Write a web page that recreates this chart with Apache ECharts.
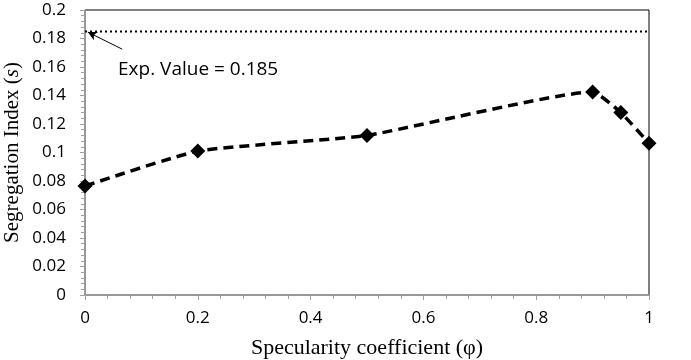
<!DOCTYPE html>
<html><head><meta charset="utf-8">
<script src="https://cdn.jsdelivr.net/npm/echarts@6/dist/echarts.min.js"></script>
<style>html,body{margin:0;padding:0;background:#fff}#c{width:691px;height:360px}</style>
</head><body><div id="c"></div>
<script>
var xValues = [0, 0.2, 0.5, 0.9, 0.95, 1];
var segIndex = [0.0765, 0.101, 0.112, 0.1425, 0.128, 0.1065];
var expValue = 0.185;
var expX = [0, 1];
var xTicks = [0, 0.2, 0.4, 0.6, 0.8, 1];
var yTicks = [0, 0.02, 0.04, 0.06, 0.08, 0.1, 0.12, 0.14, 0.16, 0.18, 0.2];
var annotationText = 'Exp. Value = 0.185';

var chart = echarts.init(document.getElementById('c'));
var tickFont = {fontFamily: 'Open Sans', fontSize: 17, color: '#000'};
chart.setOption({
  animation: false,
  grid: {left: 85, right: 42, top: 10, bottom: 65, outerBoundsMode: 'none', containLabel: false,
         show: true, borderColor: '#000', borderWidth: 1, backgroundColor: 'transparent'},
  xAxis: {
    type: 'value', min: 0, max: 1, interval: 0.2,
    axisLine: {show: true, lineStyle: {color: '#a0a0a0', width: 1.5}},
    axisTick: {show: true, length: 5, inside: false, lineStyle: {color: '#a0a0a0'}},
    minorTick: {show: true, splitNumber: 5, length: 4, lineStyle: {color: '#a0a0a0'}},
    splitLine: {show: false},
    axisLabel: Object.assign({margin: 15, formatter: function(v){return String(+v.toFixed(2));}}, tickFont),
    name: 'Specularity coefficient (φ)', nameLocation: 'middle', nameGap: 42, nameMoveOverlap: false,
    nameTextStyle: {fontFamily: 'Liberation Serif', fontSize: 22, color: '#000'}
  },
  yAxis: {
    type: 'value', min: 0, max: 0.2, interval: 0.02,
    axisLine: {show: true, lineStyle: {color: '#a0a0a0', width: 1.5}},
    axisTick: {show: true, length: 5, lineStyle: {color: '#a0a0a0'}},
    minorTick: {show: true, splitNumber: 5, length: 4, lineStyle: {color: '#a0a0a0'}},
    splitLine: {show: false},
    axisLabel: Object.assign({margin: 19, formatter: function(v){return String(+v.toFixed(2));}}, tickFont),
    name: '{n|Segregation Index (}{i|s}{n|)}', nameLocation: 'middle', nameGap: 62, nameRotate: 90, nameMoveOverlap: false,
    nameTextStyle: {rich: {
      n: {fontFamily: 'Liberation Serif', fontSize: 21, color: '#000'},
      i: {fontFamily: 'Liberation Serif', fontSize: 21, color: '#000', fontStyle: 'italic'}
    }}
  },
  series: [
    {
      type: 'line', data: expX.map(function(x){return [x, expValue];}),
      symbol: 'none', lineStyle: {color: '#000', width: 2, type: [2, 3]},
      markLine: {
        silent: true, symbol: ['none', 'arrow'], symbolSize: [7, 9],
        label: {show: false},
        lineStyle: {color: '#000', width: 1, type: 'solid'},
        data: [[{coord: [0.066, 0.1725]}, {coord: [0.005, 0.1845]}]]
      }
    },
    {
      type: 'line', data: xValues.map(function(x, i){return [x, segIndex[i]];}),
      smooth: 0.15, symbol: 'diamond', symbolSize: 15,
      itemStyle: {color: '#000'},
      lineStyle: {color: '#000', width: 3.5, type: [10, 6]}
    }
  ],
  graphic: [{
    type: 'text', left: 118, top: 60,
    style: {text: annotationText, fontFamily: 'Open Sans', fontSize: 19, fill: '#000'}
  }]
});
</script></body></html>
